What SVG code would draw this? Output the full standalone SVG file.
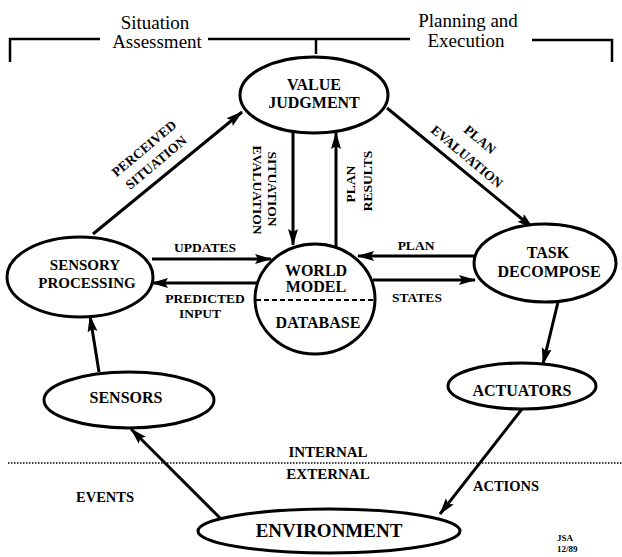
<svg xmlns="http://www.w3.org/2000/svg" width="622" height="557" viewBox="0 0 622 557">
  <style>
    .node { fill: #fff; stroke: #000; stroke-width: 3; }
    .conn { stroke: #000; stroke-width: 3; fill: none; }
    .bracket { stroke: #000; stroke-width: 2.5; fill: none; }
    text { font-family: "Liberation Serif", "Times New Roman", Times, "DejaVu Serif", serif; fill: #000; }
    .hdr { font-size: 19px; text-anchor: middle; }
    .lbl { font-weight: bold; font-size: 16px; text-anchor: middle; }
    .sm { font-weight: bold; font-size: 13.5px; text-anchor: middle; }
    .sig { font-weight: bold; font-size: 9px; }
  </style>
  <defs>
    <marker id="arrow" markerUnits="userSpaceOnUse" markerWidth="18" markerHeight="12" refX="16" refY="5" orient="auto">
      <path d="M0,0 L17,5 L0,10 L3,5 Z" fill="#000"/>
    </marker>
  </defs>
  <rect width="622" height="557" fill="#fff"/>

  <!-- header brackets -->
  <g id="header">
    <path class="bracket" d="M10,62 V39 H100"/>
    <path class="bracket" d="M208,39 H410 M316,39 V54"/>
    <path class="bracket" d="M532,40 H612 V62"/>
    <text class="hdr" x="155" y="29">Situation</text>
    <text class="hdr" x="157" y="48">Assessment</text>
    <text class="hdr" x="468" y="27">Planning and</text>
    <text class="hdr" x="466" y="47">Execution</text>
  </g>

  <!-- internal / external boundary -->
  <g id="boundary">
    <line x1="8" y1="463" x2="622" y2="463" stroke="#000" stroke-width="1.6" stroke-dasharray="1.5 1.5"/>
    <text class="sm" x="328" y="457" style="font-size:15px">INTERNAL</text>
    <text class="sm" x="328" y="479" style="font-size:15px">EXTERNAL</text>
  </g>

  <!-- connectors -->
  <g id="connectors">
    <line class="conn" x1="93" y1="234" x2="242" y2="112" marker-end="url(#arrow)"/>
    <line class="conn" x1="387" y1="108" x2="533" y2="228" marker-end="url(#arrow)"/>
    <line class="conn" x1="293" y1="132" x2="293" y2="245" marker-end="url(#arrow)"/>
    <line class="conn" x1="336" y1="247" x2="336" y2="133" marker-end="url(#arrow)"/>
    <line class="conn" x1="152" y1="259" x2="271" y2="259" marker-end="url(#arrow)"/>
    <line class="conn" x1="258" y1="283" x2="152" y2="283" marker-end="url(#arrow)"/>
    <line class="conn" x1="477" y1="256" x2="358" y2="256" marker-end="url(#arrow)"/>
    <line class="conn" x1="373" y1="280" x2="475" y2="280" marker-end="url(#arrow)"/>
    <line class="conn" x1="558" y1="302" x2="543" y2="364" marker-end="url(#arrow)"/>
    <line class="conn" x1="522" y1="409" x2="440" y2="514" marker-end="url(#arrow)"/>
    <line class="conn" x1="220" y1="518" x2="131" y2="429" marker-end="url(#arrow)"/>
    <line class="conn" x1="99" y1="372" x2="90" y2="316" marker-end="url(#arrow)"/>

    <text class="sm" transform="translate(147,152) rotate(-40)">PERCEIVED</text>
    <text class="sm" transform="translate(159,166) rotate(-40)">SITUATION</text>
    <text class="sm" transform="translate(477,143) rotate(40)">PLAN</text>
    <text class="sm" transform="translate(464,160) rotate(40)">EVALUATION</text>
    <text class="sm" transform="translate(268,189) rotate(90)">SITUATION</text>
    <text class="sm" transform="translate(253,190) rotate(90)">EVALUATION</text>
    <text class="sm" transform="translate(355,184) rotate(-90)">PLAN</text>
    <text class="sm" transform="translate(372,181) rotate(-90)">RESULTS</text>
    <text class="sm" x="205" y="252">UPDATES</text>
    <text class="sm" x="205" y="303">PREDICTED</text>
    <text class="sm" x="200" y="318">INPUT</text>
    <text class="sm" x="416" y="250">PLAN</text>
    <text class="sm" x="417" y="302">STATES</text>
    <text class="sm" x="105" y="502" style="font-size:14.5px">EVENTS</text>
    <text class="sm" x="506" y="491" style="font-size:14.5px">ACTIONS</text>
  </g>

  <!-- nodes -->
  <g id="value-judgment">
    <ellipse class="node" cx="314" cy="95" rx="74" ry="38"/>
    <text class="lbl" x="314" y="90">VALUE</text>
    <text class="lbl" x="314" y="108">JUDGMENT</text>
  </g>
  <g id="sensory-processing">
    <ellipse class="node" cx="80" cy="277" rx="73" ry="40"/>
    <text class="lbl" x="85" y="270" style="font-size:15px">SENSORY</text>
    <text class="lbl" x="87" y="288" style="font-size:15px">PROCESSING</text>
  </g>
  <g id="world-model">
    <ellipse class="node" cx="315" cy="299" rx="60" ry="55"/>
    <line x1="256" y1="300" x2="374" y2="300" stroke="#000" stroke-width="2" stroke-dasharray="5 3"/>
    <text class="lbl" x="316" y="276">WORLD</text>
    <text class="lbl" x="316" y="292">MODEL</text>
    <text class="lbl" x="318" y="328">DATABASE</text>
  </g>
  <g id="task-decompose">
    <ellipse class="node" cx="545" cy="263" rx="71" ry="39"/>
    <text class="lbl" x="548" y="258">TASK</text>
    <text class="lbl" x="549" y="277">DECOMPOSE</text>
  </g>
  <g id="actuators">
    <ellipse class="node" cx="522" cy="386" rx="74" ry="23"/>
    <text class="lbl" x="522" y="396">ACTUATORS</text>
  </g>
  <g id="sensors">
    <ellipse class="node" cx="129" cy="400" rx="85" ry="28"/>
    <text class="lbl" x="126" y="403">SENSORS</text>
  </g>
  <g id="environment">
    <ellipse class="node" cx="329" cy="531" rx="131" ry="22"/>
    <text class="lbl" x="329" y="537" style="font-size:19px">ENVIRONMENT</text>
  </g>

  <g id="signature">
    <text class="sig" x="557" y="541">JSA</text>
    <text class="sig" x="557" y="552">12/89</text>
  </g>
</svg>
